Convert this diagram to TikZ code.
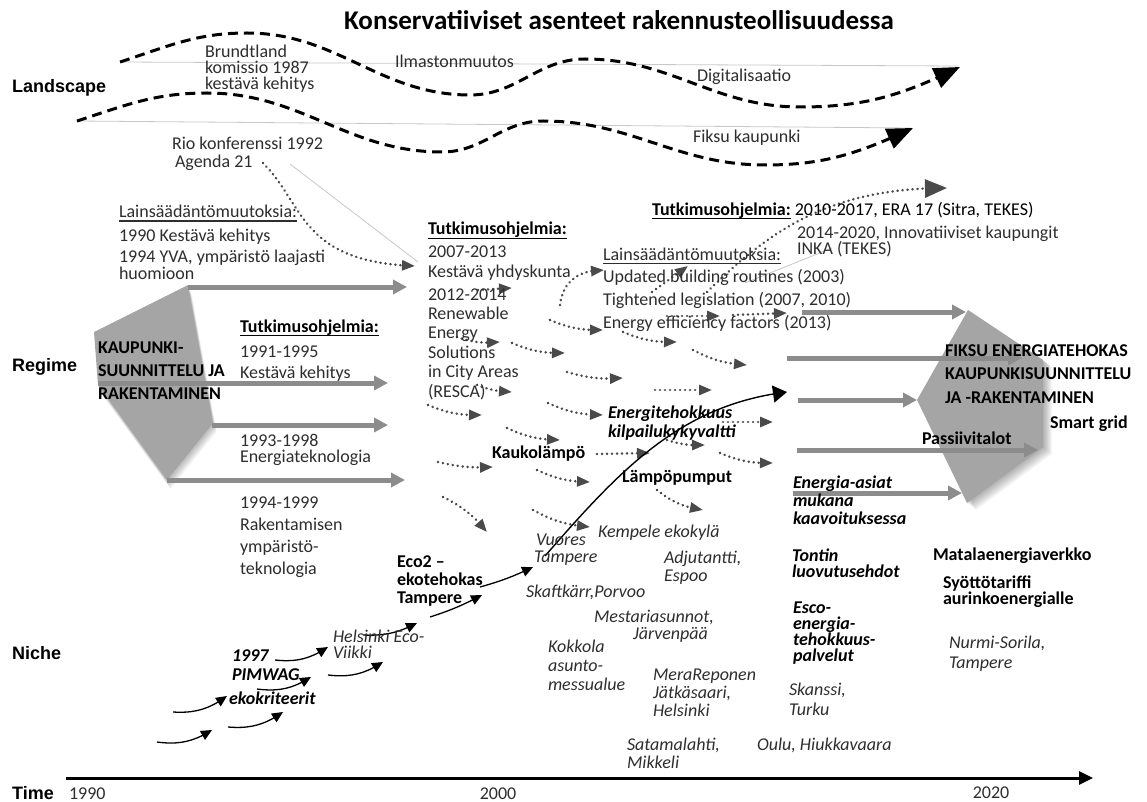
\documentclass[tikz,border=0pt]{standalone}
\usepackage{fontspec}
\setmainfont{Carlito}
\newfontfamily\labelfont{Liberation Sans}
\usetikzlibrary{arrows.meta,bending}
\definecolor{textgray}{HTML}{2E2E2E}
\definecolor{arrowgray}{HTML}{8C8C8C}
\definecolor{shapegray}{HTML}{A5A5A5}
\definecolor{dotgray}{HTML}{4A4A4A}
\definecolor{linegray}{HTML}{C8C8C8}
\newcommand\stk[2]{\vtop{\baselineskip=#1pt\lineskiplimit=-100pt\lineskip=0pt\relax\halign{##\hfil\cr#2\crcr}}}
\newcommand\myul[1]{\setbox0=\hbox{#1}\rlap{\vrule height -2.5pt depth 4pt width \wd0}\box0\relax}
\newcommand\myconn[4]{\coordinate (#1a) at #2;\coordinate (#1b) at #3;\draw[#4] (#1a) to (#1b);}
\begin{document}
\begin{tikzpicture}[x=1pt,y=-1pt,
  txt/.style={anchor=base west, inner sep=0pt, outer sep=0pt, font=\fontsize{18}{18}\selectfont, text=textgray},
  btxt/.style={txt, font=\fontsize{18}{18}\selectfont\bfseries, text=black},
  itxt/.style={txt, font=\fontsize{18}{18}\selectfont\itshape},
  bitxt/.style={txt, font=\fontsize{18}{18}\selectfont\bfseries\itshape, text=black},
  lbl/.style={anchor=base west, inner sep=0pt, font=\labelfont\fontsize{18}{18}\selectfont\bfseries, text=black},
  grayarrow/.style={draw=arrowgray, line width=5pt, -{Triangle[length=14pt,width=14pt]}},
  dotarrow/.style={draw=dotgray, line width=2.8pt, line cap=round, dash pattern=on 0.01pt off 5pt, -{Triangle[length=13pt,width=10pt]}},
  nichearrow/.style={draw=black, line width=1.3pt, -{Triangle[length=11pt,width=10pt]}},
  wave/.style={draw=black, line width=3pt, dash pattern=on 10pt off 6pt, -{Triangle[length=26pt,width=21pt]}},
  thinline/.style={draw=linegray, line width=0.8pt},
  shapefill/.style={fill=shapegray}
]
\useasboundingbox (0,0) rectangle (1147,802);
\fill[white] (0,0) rectangle (1147,802);

% ---------- regime shapes with soft shadows ----------
\foreach \s in {1,...,9}{
  \fill[black, opacity=0.03, shift={(\s*0.4,\s)}] (94,332) -- (188,285) -- (213,423) -- (167,480) -- (98,385) -- cycle;
  \fill[black, opacity=0.035, shift={(\s,\s*0.8)}] (968,310) -- (1043,360) -- (1043,447) -- (967,503) -- (917,400) -- cycle;
}
\fill[shapefill] (94,332) -- (188,285) -- (213,423) -- (167,480) -- (98,385) -- cycle;
\fill[shapefill] (968,310) -- (1043,360) -- (1043,447) -- (967,503) -- (917,400) -- cycle;

% ---------- gray regime arrows ----------
\myconn{A1}{(188,287)}{(407,287)}{grayarrow}
\myconn{A2}{(98,383)}{(388,383)}{grayarrow}
\myconn{A3}{(212,425)}{(388,425)}{grayarrow}
\myconn{A4}{(167,480)}{(405,480)}{grayarrow}
\myconn{B1}{(802,312)}{(966,312)}{grayarrow}
\myconn{B2}{(787,358)}{(1022,358)}{grayarrow}
\myconn{B3}{(798,400)}{(917,400)}{grayarrow}
\myconn{B4}{(797,450)}{(1038,450)}{grayarrow}
\myconn{B5}{(793,493)}{(962,493)}{grayarrow}

% ---------- landscape ----------
\myconn{T1}{(120,62)}{(958,66)}{thinline}
\myconn{T2}{(77,121)}{(911,128)}{thinline}
\myconn{T3}{(290,164)}{(418,262)}{thinline}
\myconn{T4}{(745,283)}{(832,248)}{thinline}
\coordinate (w1a) at (120,62); \coordinate (w1b) at (247,33); \coordinate (w1c) at (470,95);
\coordinate (w1d) at (585,59); \coordinate (w1e) at (800,107); \coordinate (w1f) at (960,67);
\draw[wave] (w1a) to[out=18,in=180] (w1b) to[out=0,in=180] (w1c) to[out=0,in=180] (w1d)
  to[out=0,in=180] (w1e) to[out=0,in=206] (w1f);
\coordinate (w2a) at (77,121); \coordinate (w2b) at (207,93); \coordinate (w2c) at (442,152);
\coordinate (w2d) at (543,121); \coordinate (w2e) at (765,165); \coordinate (w2f) at (913,128);
\draw[wave] (w2a) to[out=18,in=180] (w2b) to[out=0,in=180] (w2c) to[out=0,in=180] (w2d)
  to[out=0,in=180] (w2e) to[out=0,in=205] (w2f);

% ---------- dotted arrows ----------
\coordinate (agS) at (263,163); \coordinate (agE) at (415,266);
\draw[dotarrow] (agS) .. controls (305,205) and (300,262) .. (agE);
\coordinate (eraS) at (707,292); \coordinate (eraE) at (947,188);
\draw[dotarrow, -{Triangle[length=22pt,width=18pt]}] (eraS) .. controls (770,230) and (830,188) .. (eraE);
\coordinate (updS) at (560,305); \coordinate (updE) at (604,270);
\draw[dotarrow] (updS) .. controls (563,280) and (580,270) .. (updE);
\myconn{d25}{(652,292)}{(688,266)}{dotarrow}
\myconn{d1}{(550,320)}{(603,330)}{dotarrow,bend right=12}
\myconn{d2}{(457,337)}{(500,342)}{dotarrow,bend right=12}
\myconn{d3}{(512,343)}{(565,353)}{dotarrow,bend right=12}
\myconn{d4}{(623,332)}{(677,342)}{dotarrow,bend right=12}
\myconn{d5}{(693,350)}{(747,365)}{dotarrow,bend right=12}
\myconn{d6}{(567,372)}{(623,378)}{dotarrow,bend right=10}
\myconn{d7}{(477,385)}{(512,392)}{dotarrow,bend right=10}
\myconn{d8}{(655,390)}{(712,390)}{dotarrow}
\myconn{d9}{(428,405)}{(482,415)}{dotarrow,bend right=12}
\myconn{d10}{(548,403)}{(603,415)}{dotarrow,bend right=12}
\myconn{d11}{(723,422)}{(773,422)}{dotarrow}
\myconn{d12}{(507,428)}{(560,440)}{dotarrow,bend right=12}
\myconn{d13}{(667,440)}{(705,445)}{dotarrow,bend right=10}
\myconn{d14}{(720,453)}{(773,463)}{dotarrow,bend right=12}
\myconn{d15}{(438,462)}{(493,467)}{dotarrow,bend right=8}
\myconn{d16}{(597,454)}{(650,453)}{dotarrow}
\myconn{d17}{(537,470)}{(590,482)}{dotarrow,bend right=12}
\myconn{d18}{(443,497)}{(487,532)}{dotarrow,bend left=12}
\myconn{d19}{(533,510)}{(590,527)}{dotarrow,bend right=12}
\myconn{d20}{(657,490)}{(703,510)}{dotarrow,bend right=15}
\myconn{d21}{(667,316)}{(720,316)}{dotarrow}
\myconn{d22}{(733,315)}{(787,313)}{dotarrow}
\myconn{d23}{(478,290)}{(512,288)}{dotarrow}

% ---------- niche arrows ----------
\myconn{n1}{(157,742)}{(212,730)}{nichearrow,bend right=20}
\myconn{n2}{(228,727)}{(283,712)}{nichearrow,bend right=20}
\myconn{n3}{(173,712)}{(227,696)}{nichearrow,bend right=20}
\myconn{n4}{(257,689)}{(311,677)}{nichearrow,bend right=20}
\myconn{n5}{(275,660)}{(328,647)}{nichearrow,bend right=20}
\myconn{n6}{(328,675)}{(383,662)}{nichearrow,bend right=20}
\myconn{n7}{(363,635)}{(417,623)}{nichearrow,bend right=15}
\myconn{n8}{(430,617)}{(482,595)}{nichearrow,bend right=5}
\myconn{n9}{(480,587)}{(533,567)}{nichearrow,bend right=5}
\coordinate (mainS) at (545,556); \coordinate (mainE) at (787,392);
\draw[line width=1.4pt, -{Triangle[length=14pt,width=17pt]}] (mainS) .. controls (620,470) and (680,405) .. (mainE);

% ---------- time axis ----------
\myconn{ax}{(66,778)}{(1093,778)}{line width=3pt, -{Triangle[length=14pt,width=13pt]}}

% ---------- texts ----------
\node[anchor=base, inner sep=0pt, font=\fontsize{27}{27}\selectfont\bfseries] (title) at (619,30) {Konservatiiviset asenteet rakennusteollisuudessa};
\node[lbl] (landscape) at (12,93) {Landscape};
\node[lbl] (regime) at (12,371) {Regime};
\node[lbl] (niche) at (12,659) {Niche};
\node[lbl] (time) at (12,799) {Time};
\node[txt] (y1990) at (69,799) {1990};
\node[txt, anchor=base] (y2000) at (498,799) {2000};
\node[txt, anchor=base] (y2020) at (991,798) {2020};

\node[txt] (brund) at (205,58) {\stk{16}{Brundtland\cr komissio 1987\cr kestävä kehitys}};
\node[txt] (ilmasto) at (395,68) {Ilmastonmuutos};
\node[txt] (digi) at (697,82) {Digitalisaatio};
\node[txt] (fiksu) at (693,143) {Fiksu kaupunki};
\node[txt] (rio) at (172,150) {\stk{18}{Rio konferenssi 1992\cr\kern3pt Agenda 21}};

\node[txt] (lains1) at (119,218) {\stk{24}{\myul{Lainsäädäntömuutoksia:}\cr 1990 Kestävä kehitys}};
\node[txt] (yva) at (119,262) {\stk{17}{1994 YVA, ympäristö laajasti\cr huomioon}};
\node[txt] (tutk1) at (240,332) {\myul{\bfseries\color{black}Tutkimusohjelmia:}};
\node[txt] (kest1) at (240,357) {\stk{21}{1991-1995\cr Kestävä kehitys}};
\node[txt] (energiatek) at (240,446) {\stk{16}{1993-1998\cr Energiateknologia}};
\node[txt] (rakent) at (240,508) {\stk{22.3}{1994-1999\cr Rakentamisen\cr ympäristö-\cr teknologia}};
\node[btxt] (kaup) at (98,353) {\stk{23}{KAUPUNKI-\cr SUUNNITTELU JA\cr RAKENTAMINEN}};

\node[txt] (tutk2) at (428,235) {\myul{\bfseries\color{black}Tutkimusohjelmia:}};
\node[txt] (yhdys) at (428,257) {\stk{20}{2007-2013\cr Kestävä yhdyskunta}};
\node[txt] (resca) at (428,300) {\stk{19.4}{2012-2014\cr Renewable\cr Energy\cr Solutions\cr in City Areas\cr (RESCA)}};

\node[txt] (tutk3) at (652,215) {\myul{\bfseries\color{black}Tutkimusohjelmia:} 2010-2017, ERA 17 (Sitra, TEKES)};
\node[txt] (inka) at (797,238) {\stk{17}{2014-2020, Innovatiiviset kaupungit\cr INKA (TEKES)}};
\node[txt] (lains2) at (603,260) {\stk{22.7}{\myul{Lainsäädäntömuutoksia:}\cr Updated building routines (2003)\cr Tightened legislation (2007, 2010)\cr Energy efficiency factors (2013)}};

\node[btxt] (fiksuen) at (945,356) {\stk{23.5}{FIKSU ENERGIATEHOKAS\cr KAUPUNKISUUNNITTELU\cr JA -RAKENTAMINEN}};
\node[btxt] (smart) at (1050,428) {Smart grid};
\node[btxt] (passiivi) at (922,444) {Passiivitalot};
\node[bitxt] (energiaasiat) at (793,488) {\stk{18}{Energia-asiat\cr mukana\cr kaavoituksessa}};
\node[bitxt] (tontin) at (792,561) {\stk{16}{Tontin\cr luovutusehdot}};
\node[bitxt] (esco) at (793,613) {\stk{16}{Esco-\cr energia-\cr tehokkuus-\cr palvelut}};
\node[itxt] (skanssi) at (789,695) {\stk{20}{Skanssi,\cr Turku}};
\node[itxt] (oulu) at (757,750) {Oulu, Hiukkavaara};
\node[btxt] (matala) at (933,560) {Matalaenergiaverkko};
\node[btxt] (syotto) at (943,588) {\stk{16}{Syöttötariffi\cr aurinkoenergialle}};
\node[itxt] (nurmi) at (949,648) {\stk{20}{Nurmi-Sorila,\cr Tampere}};

\node[bitxt] (energitehok) at (608,418) {\stk{19}{Energitehokkuus\cr kilpailukykyvaltti}};
\node[btxt] (kauko) at (492,458) {Kaukolämpö};
\node[btxt] (lampo) at (622,482) {Lämpöpumput};
\node[itxt] (kempele) at (598,537) {Kempele ekokylä};
\node[itxt] (vuores) at (534,545) {\stk{17}{\kern2pt Vuores\cr Tampere}};
\node[itxt] (adju) at (664,563) {\stk{18}{Adjutantti,\cr Espoo}};
\node[itxt] (skaft) at (526,597) {Skaftkärr,Porvoo};
\node[itxt] (mestari) at (594,622) {\stk{17}{Mestariasunnot,\cr\kern39pt Järvenpää}};
\node[itxt] (kokkola) at (548,652) {\stk{19}{Kokkola\cr asunto-\cr messualue}};
\node[itxt] (mera) at (653,680) {\stk{18}{MeraReponen\cr Jätkäsaari,\cr Helsinki}};
\node[itxt] (satama) at (627,750) {\stk{18}{Satamalahti,\cr Mikkeli}};
\node[btxt] (eco2) at (397,567) {\stk{18}{Eco2 –\cr ekotehokas\cr Tampere}};
\node[itxt] (viikki) at (333,642) {\stk{16}{Helsinki Eco-\cr Viikki}};
\node[bitxt] (pimwag) at (232,661) {\stk{19}{1997\cr PIMWAG}};
\node[bitxt] (ekokrit) at (229,704) {ekokriteerit};
\end{tikzpicture}
\end{document}
